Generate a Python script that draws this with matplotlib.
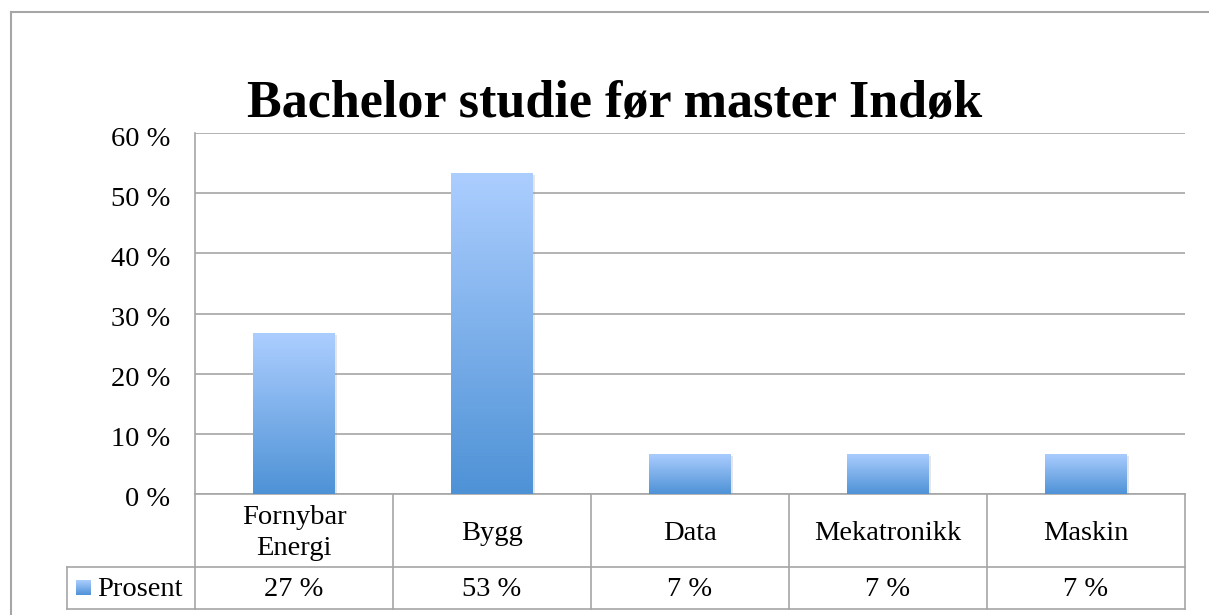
import numpy as np
import matplotlib
matplotlib.use('Agg')
import matplotlib.pyplot as plt
from matplotlib import patheffects as pe
from matplotlib.transforms import blended_transform_factory, ScaledTranslation
from matplotlib.lines import Line2D

title = "Bachelor studie før master Indøk"
categories = ["Fornybar\nEnergi", "Bygg", "Data", "Mekatronikk", "Maskin"]
values = [26.7, 53.3, 6.7, 6.7, 6.7]
series_name = "Prosent"
yticks = [0, 10, 20, 30, 40, 50, 60]
ytick_labels = ["0 %", "10 %", "20 %", "30 %", "40 %", "50 %", "60 %"]

plt.rcParams['font.family'] = ['Liberation Serif', 'DejaVu Serif']

W, H = 1209, 615
GRID = '#A6A6A6'
TOP_C = np.array([172, 206, 255]) / 255
BOT_C = np.array([78, 146, 214]) / 255
FS = 20.5

fig = plt.figure(figsize=(W / 100, H / 100), dpi=100)
fig.patch.set_facecolor('white')


def fx(px):
    return px / W


def fy(py):
    return 1 - py / H


ax = fig.add_axes([fx(195), fy(494), fx(1185) - fx(195), fy(133) - fy(494)])
n = len(categories)
x = np.arange(n)

grad = np.linspace(0, 1, 256)[:, None, None] * (TOP_C - BOT_C) + BOT_C
grad = np.repeat(grad, 2, axis=1)

bars = ax.bar(x, values, width=0.41, color=BOT_C, zorder=3,
              path_effects=[pe.SimplePatchShadow(offset=(1.5, -1.5), shadow_rgbFace='#909090', alpha=0.22),
                            pe.Normal()])
for b in bars:
    x0, y0 = b.get_x(), b.get_y()
    im = ax.imshow(grad, extent=[x0, x0 + b.get_width(), y0, y0 + b.get_height()],
                   origin='lower', aspect='auto', zorder=4, interpolation='bilinear')
    im.set_clip_path(b)

ax.set_xlim(-0.5, n - 0.5)
ax.set_ylim(0, 60)
ax.set_aspect('auto')
ax.set_yticks(yticks)
ax.set_yticklabels(ytick_labels)
ax.set_xticks([])
ax.tick_params(axis='y', length=0, pad=18, labelsize=FS)
shift = ScaledTranslation(0, -3 / 100, fig.dpi_scale_trans)
for t in ax.yaxis.get_major_ticks():
    t.label1.set_transform(t.label1.get_transform() + shift)
ax.yaxis.grid(True, color=GRID, lw=1.2)
ax.set_axisbelow(True)
for s in ['top', 'right']:
    ax.spines[s].set_visible(False)
for s in ['left', 'bottom']:
    ax.spines[s].set_color(GRID)
    ax.spines[s].set_linewidth(1.2)

# data table under the axes
tr = blended_transform_factory(ax.transData, ax.transAxes)
ah = 494 - 133
y_mid = -(567 - 494) / ah
y_bot = -(609 - 494) / ah
for i in range(n + 1):
    ax.add_line(Line2D([i - 0.5, i - 0.5], [0, y_bot], transform=tr, color=GRID, lw=1.2, clip_on=False))
for yy in (y_mid, y_bot):
    ax.add_line(Line2D([-0.5, n - 0.5], [yy, yy], transform=tr, color=GRID, lw=1.2, clip_on=False))
for i, (c, v) in enumerate(zip(categories, values)):
    ax.text(i, -(533 - 494) / ah, c, transform=tr, ha='center', va='center', fontsize=FS,
            linespacing=1.3, clip_on=False)
    ax.text(i, -(590 - 494) / ah, f"{v:.0f} %", transform=tr, ha='center', va='center',
            fontsize=FS, clip_on=False)

# row header cell
fig.add_artist(Line2D([fx(67), fx(195)], [fy(567), fy(567)], color=GRID, lw=1.2))
fig.add_artist(Line2D([fx(67), fx(195)], [fy(609), fy(609)], color=GRID, lw=1.2))
fig.add_artist(Line2D([fx(67), fx(67)], [fy(567), fy(609)], color=GRID, lw=1.2))
kax = fig.add_axes([fx(76), fy(595), 15 / W, 15 / H])
kax.imshow(grad, origin='lower', aspect='auto', interpolation='bilinear')
kax.axis('off')
fig.text(fx(97), fy(590), series_name, ha='left', va='center', fontsize=FS)

# outer chart frame
fig.add_artist(Line2D([fx(11), 1], [fy(12), fy(12)], color=GRID, lw=1.5))
fig.add_artist(Line2D([fx(11), fx(11)], [fy(12), 0], color=GRID, lw=1.5))

fig.text(fx(615), fy(117), title, ha='center', va='baseline', fontsize=37.5, fontweight='bold')

fig.savefig('out.png', dpi=100, facecolor='white')
